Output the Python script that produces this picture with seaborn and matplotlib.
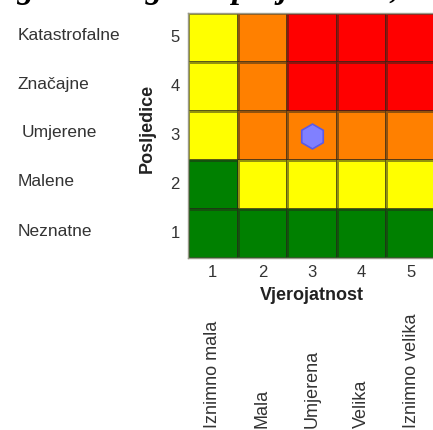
import matplotlib
matplotlib.use("Agg")
import matplotlib.pyplot as plt
from matplotlib.colors import ListedColormap
import seaborn as sns
import pandas as pd

# ---- data ----
probability = [1, 2, 3, 4, 5]
consequence = [5, 4, 3, 2, 1]  # top to bottom
probability_names = ["Iznimno mala", "Mala", "Umjerena", "Velika", "Iznimno velika"]
consequence_names = ["Katastrofalne", "Značajne", "Umjerene", "Malene", "Neznatne"]
# risk level per cell: 0 green, 1 yellow, 2 orange, 3 red
row_c5 = [1, 2, 3, 3, 3]
row_c4 = [1, 2, 3, 3, 3]
row_c3 = [1, 2, 2, 2, 2]
row_c2 = [0, 1, 1, 1, 1]
row_c1 = [0, 0, 0, 0, 0]
level_colors = ["#008000", "#FFFF00", "#FF8000", "#FF0000"]
point_probability = [3]
point_consequence = [3]
title_text = "Rang rizika ograde projektanta, uz primjer"

df = pd.DataFrame([row_c5, row_c4, row_c3, row_c2, row_c1],
                  index=consequence, columns=probability)

sns.set_theme(style="white")
plt.rcParams["font.family"] = ["Liberation Sans", "DejaVu Sans"]

W, H = 433, 430
fig = plt.figure(figsize=(W / 100, H / 100), dpi=100)
ax = fig.add_axes([188 / W, 172 / H, 248 / W, 245 / H])

sns.heatmap(df, ax=ax, cmap=ListedColormap(level_colors), vmin=-0.5, vmax=3.5,
            cbar=False, linewidths=0.8, linecolor=(0.15, 0.15, 0.1, 0.5),
            square=False)

# marker
xs = [probability.index(p) + 0.5 for p in point_probability]
ys = [consequence.index(c) + 0.5 for c in point_consequence]
ax.scatter(xs, ys, marker="h", s=320, color="#8080FF", edgecolor="#5A5AE6",
           linewidth=1.2, zorder=5)

for s in ax.spines.values():
    s.set_visible(True)
    s.set_color("#9a9a8a")
    s.set_linewidth(1)

ax.tick_params(axis="x", length=0, labelsize=12, colors="#333333", pad=5)
ax.tick_params(axis="y", length=0, labelsize=12, colors="#333333", pad=6)
ax.set_xticklabels([str(p) for p in probability], rotation=0)
ax.set_yticklabels([str(c) for c in consequence], rotation=0)
ax.set_xlabel("Vjerojatnost", fontsize=13, fontweight="bold", color="#222222", labelpad=5)
ax.set_ylabel("Posljedice", fontsize=13, fontweight="bold", color="#222222", labelpad=10)
ax.yaxis.set_label_coords(-0.13, 0.53)

# consequence names on the left
for i, name in enumerate(consequence_names):
    y = ax.transData.transform((0, i + 0.5))[1]
    xoff = 22 if name == "Umjerene" else 18
    fig.text(xoff / W, (y + 2.5) / H, name, fontsize=12.5, color="#333333",
             ha="left", va="center")

# probability names below, rotated
for i, name in enumerate(probability_names):
    x = ax.transData.transform((i + 0.5, 0))[0]
    fig.text(x / W, 2 / H, name, fontsize=13, color="#333333",
             rotation=90, ha="center", va="bottom")

# clipped title at top
fig.text(-40 / W, 1.0 + 2 / H, title_text, fontsize=24, fontweight="bold",
         fontstyle="italic", family="Liberation Serif", ha="left", va="baseline",
         color="black")

fig.savefig("out.png", dpi=100)
